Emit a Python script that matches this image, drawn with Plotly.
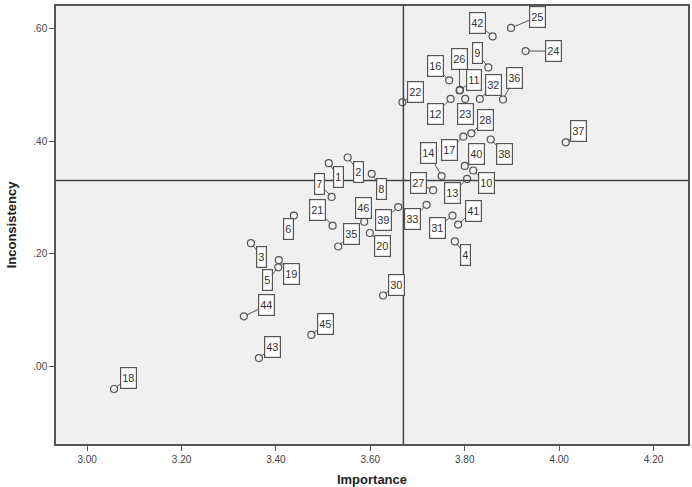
import plotly.graph_objects as go

# ---- data ----
item_ids = [1, 2, 3, 4, 5, 6, 7, 8, 9, 10, 11, 12, 13, 14, 16, 17, 18, 19, 20, 21,
            22, 23, 24, 25, 26, 27, 28, 30, 31, 32, 33, 35, 36, 37, 38, 39, 40, 41,
            42, 43, 44, 45, 46]
importance = [3.512, 3.552, 3.347, 3.779, 3.405, 3.438, 3.518, 3.603, 3.850, 3.818,
              3.790, 3.770, 3.805, 3.751, 3.767, 3.797, 3.057, 3.406, 3.599, 3.520,
              3.668, 3.801, 3.929, 3.898, 3.789, 3.733, 3.814, 3.627, 3.774, 3.832,
              3.719, 3.532, 3.881, 4.014, 3.855, 3.659, 3.800, 3.786, 3.859, 3.364,
              3.332, 3.475, 3.587]
inconsistency = [0.361, 0.371, 0.219, 0.222, 0.176, 0.268, 0.301, 0.342, 0.531, 0.348,
                 0.491, 0.475, 0.333, 0.338, 0.508, 0.408, -0.040, 0.189, 0.237, 0.250,
                 0.469, 0.475, 0.560, 0.601, 0.490, 0.313, 0.414, 0.126, 0.268, 0.475,
                 0.287, 0.213, 0.474, 0.398, 0.403, 0.283, 0.356, 0.252, 0.586, 0.015,
                 0.089, 0.056, 0.257]
mean_importance = 3.67
mean_inconsistency = 0.33

x_ticks = [3.0, 3.2, 3.4, 3.6, 3.8, 4.0, 4.2]
x_tick_labels = ["3.00", "3.20", "3.40", "3.60", "3.80", "4.00", "4.20"]
y_ticks = [0.0, 0.2, 0.4, 0.6]
y_tick_labels = [".00", ".20", ".40", ".60"]

# ---- label placement (pixel offsets of each label box from its point) ----
label_offsets = {
    1: (10, 14), 2: (11, 14), 3: (11, 14), 4: (11, 14), 5: (-11, 13), 6: (-5, 13),
    7: (-12, -13), 8: (10, 15), 9: (-11, -14), 10: (13, 13), 11: (14, -10),
    12: (-15, 15), 13: (-15, 14), 14: (-13, -23), 16: (-14, -14), 17: (-14, 13),
    18: (14, -11), 19: (13, 14), 20: (13, 13), 21: (-15, -16), 22: (13, -10),
    23: (0, 15), 24: (28, 0), 25: (26, -11), 26: (0, -31), 27: (-15, -7),
    28: (14, -13), 30: (13, -11), 31: (-15, 12), 32: (14, -14), 33: (-14, 14),
    35: (13, -13), 36: (12, -22), 37: (13, -11), 38: (14, 14), 39: (-15, 13),
    40: (12, -12), 41: (15, -14), 42: (-15, -13), 43: (14, -11), 44: (23, -11),
    45: (14, -11), 46: (-1, -14),
}

FONT = "Liberation Sans, Arial, sans-serif"
EDGE = "#555555"

fig = go.Figure()
fig.add_trace(go.Scatter(
    x=importance, y=inconsistency, mode="markers",
    marker=dict(symbol="circle-open", size=7, color=EDGE, line=dict(width=1.2, color=EDGE)),
    hoverinfo="skip", showlegend=False,
))

annotations = []
for i, xv, yv in zip(item_ids, importance, inconsistency):
    dx, dy = label_offsets[i]
    annotations.append(dict(
        x=xv, y=yv, xref="x", yref="y", text=str(i),
        showarrow=True, arrowhead=0, arrowwidth=1, arrowcolor=EDGE,
        ax=dx, ay=dy, standoff=3, height=18,
        bgcolor="white", bordercolor=EDGE, borderwidth=1.2, borderpad=1,
        font=dict(family=FONT, size=11, color="#333333"),
    ))

fig.update_layout(
    width=692, height=487,
    margin=dict(l=56, r=4, t=6, b=43),
    paper_bgcolor="white", plot_bgcolor="#f0f0f0",
    font=dict(family=FONT, color="#333333"),
    annotations=annotations,
    shapes=[
        dict(type="line", xref="x", yref="paper", x0=mean_importance, x1=mean_importance,
             y0=0, y1=1, line=dict(color="#444444", width=1.5)),
        dict(type="line", xref="paper", yref="y", x0=0, x1=1,
             y0=mean_inconsistency, y1=mean_inconsistency, line=dict(color="#444444", width=1.5)),
    ],
    xaxis=dict(
        range=[2.934, 4.273], tickmode="array", tickvals=x_ticks, ticktext=x_tick_labels,
        ticks="outside", ticklen=5, tickcolor=EDGE, showgrid=False, zeroline=False,
        showline=True, linecolor=EDGE, linewidth=1.5, mirror=True, automargin=False,
        tickfont=dict(family=FONT, size=10, color="#444444"),
        title=dict(text="<b>Importance</b>", font=dict(family=FONT, size=13, color="#222222"),
                   standoff=17),
    ),
    yaxis=dict(
        range=[-0.1376, 0.640], tickmode="array", tickvals=y_ticks, ticktext=y_tick_labels,
        ticks="outside", ticklen=5, tickcolor=EDGE, showgrid=False, zeroline=False,
        showline=True, linecolor=EDGE, linewidth=1.5, mirror=True, automargin=False,
        tickfont=dict(family=FONT, size=10, color="#444444"),
        title=dict(text="<b>Inconsistency</b>", font=dict(family=FONT, size=13, color="#222222"),
                   standoff=14),
    ),
)

fig.write_html("out.html")
